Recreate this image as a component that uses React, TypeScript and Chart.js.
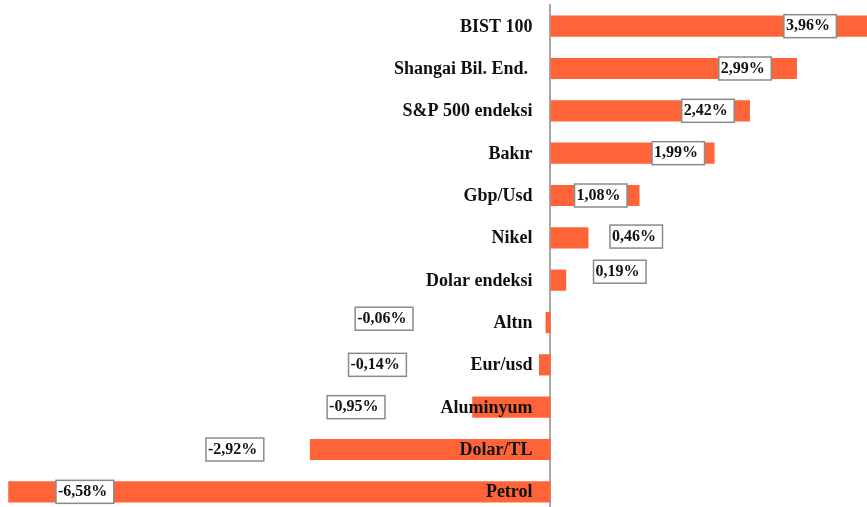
import React, { useEffect, useRef } from "react";
import { Chart, registerables } from "chart.js";

Chart.register(...registerables);

const categories = [
  "BIST 100",
  "Shangai Bil. End. ",
  "S&P 500 endeksi",
  "Bakır",
  "Gbp/Usd",
  "Nikel",
  "Dolar endeksi",
  "Altın",
  "Eur/usd",
  "Aluminyum",
  "Dolar/TL",
  "Petrol",
];

const values = [3.96, 2.99, 2.42, 1.99, 1.08, 0.46, 0.19, -0.06, -0.14, -0.95, -2.92, -6.58];

const valueLabels = ["3,96%", "2,99%", "2,42%", "1,99%", "1,08%", "0,46%", "0,19%", "-0,06%", "-0,14%", "-0,95%", "-2,92%", "-6,58%"];

// where each value label box is centred (in axis units) and its vertical nudge (in category bands)
const labelAt = [3.15, 2.36, 1.91, 1.55, 0.61, 1.04, 0.84, -2.02, -2.1, -2.36, -3.83, -5.65];
const labelShift = [0, 0, 0, 0, 0, -0.03, -0.2, -0.09, 0, 0, 0, 0];

const BAR = "#FF6439";

export default function App() {
  const ref = useRef<HTMLCanvasElement>(null);

  useEffect(() => {
    const canvas = ref.current!;
    const overlay = {
      id: "overlay",
      beforeDatasetsDraw(chart: any) {
        const { ctx, chartArea, scales } = chart;
        const x0 = scales.x.getPixelForValue(0);
        ctx.save();
        ctx.strokeStyle = "#8a8a8a";
        ctx.lineWidth = 1.5;
        ctx.beginPath();
        ctx.moveTo(x0 - 0.5, chartArea.top - 1);
        ctx.lineTo(x0 - 0.5, chart.height);
        ctx.stroke();
        ctx.restore();
      },
      afterDatasetsDraw(chart: any) {
        const { ctx, scales } = chart;
        const x0 = scales.x.getPixelForValue(0);
        const band = scales.y.getPixelForTick(1) - scales.y.getPixelForTick(0);
        ctx.save();
        ctx.fillStyle = "#111";
        ctx.font = 'bold 18px "Liberation Serif"';
        ctx.textAlign = "right";
        ctx.textBaseline = "middle";
        categories.forEach((c, i) => {
          const y = scales.y.getPixelForTick(i);
          ctx.fillText(c, x0 - 18, y + 1);
        });
        ctx.font = 'bold 16px "Liberation Serif"';
        ctx.textAlign = "left";
        valueLabels.forEach((t, i) => {
          const cx = scales.x.getPixelForValue(labelAt[i]);
          const cy = scales.y.getPixelForTick(i) + labelShift[i] * band;
          const w = ctx.measureText(t).width + 8.5;
          const h = 23;
          const left = cx - w / 2;
          const top = cy - h / 2;
          ctx.fillStyle = "#ffffff";
          ctx.fillRect(left, top, w, h);
          ctx.strokeStyle = "#8a8a8a";
          ctx.lineWidth = 1.5;
          ctx.strokeRect(left, top, w, h);
          ctx.fillStyle = "#111";
          ctx.fillText(t, left + 2, cy);
        });
        ctx.restore();
      },
    };

    const chart = new Chart(canvas, {
      type: "bar",
      data: {
        labels: categories,
        datasets: [
          {
            data: values,
            backgroundColor: BAR,
            borderWidth: 0,
            barPercentage: 0.5,
            categoryPercentage: 1,
          },
        ],
      },
      options: {
        indexAxis: "y",
        responsive: false,
        animation: false,
        layout: { padding: { top: 5, left: 0, right: 0, bottom: 0 } },
        plugins: { legend: { display: false }, tooltip: { enabled: false } },
        scales: {
          x: { type: "linear", min: -6.68, max: 3.84, display: false },
          y: { type: "category", display: false, offset: true },
        },
      },
      plugins: [overlay],
    } as any);
    return () => chart.destroy();
  }, []);

  return (
    <div style={{ position: "fixed", left: 0, top: 0, width: 867, height: 507, overflow: "hidden", background: "#fff" }}>
      <canvas ref={ref} width={867} height={513} style={{ display: "block" }} />
    </div>
  );
}
